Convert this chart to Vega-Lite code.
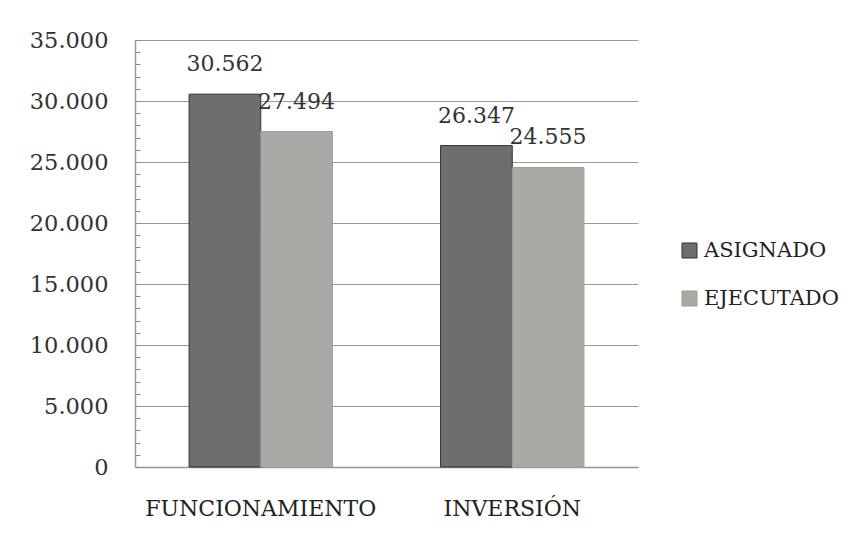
{
  "$schema": "https://vega.github.io/schema/vega-lite/v6.json",
  "width": 503,
  "height": 427,
  "autosize": "none",
  "padding": {"left": 135, "top": 40, "right": 218, "bottom": 68},
  "background": "white",
  "config": {
    "locale": {"number": {"decimal": ",", "thousands": ".", "grouping": [3], "currency": ["", ""]}},
    "font": "DejaVu Serif",
    "view": {"stroke": null}
  },
  "data": {
    "values": [
      {"categoria": "FUNCIONAMIENTO", "tipo": "ASIGNADO", "valor": 30562},
      {"categoria": "FUNCIONAMIENTO", "tipo": "EJECUTADO", "valor": 27494},
      {"categoria": "INVERSIÓN", "tipo": "ASIGNADO", "valor": 26347},
      {"categoria": "INVERSIÓN", "tipo": "EJECUTADO", "valor": 24555}
    ]
  },
  "encoding": {
    "x": {
      "field": "categoria", "type": "nominal", "sort": null,
      "scale": {"paddingInner": 0.43, "paddingOuter": 0.215},
      "axis": {"title": null, "labelAngle": 0, "labelLimit": 0, "labelFont": "DejaVu Serif", "labelFontSize": 22, "labelColor": "#222", "labelPadding": 31, "ticks": false, "domainColor": "#999", "domainWidth": 1.5}
    },
    "xOffset": {"field": "tipo", "type": "nominal", "sort": ["ASIGNADO", "EJECUTADO"]},
    "y": {
      "field": "valor", "type": "quantitative",
      "scale": {"domain": [0, 35000], "nice": false},
      "axis": {
        "title": null,
        "values": [0, 1000, 2000, 3000, 4000, 5000, 6000, 7000, 8000, 9000, 10000, 11000, 12000, 13000, 14000, 15000, 16000, 17000, 18000, 19000, 20000, 21000, 22000, 23000, 24000, 25000, 26000, 27000, 28000, 29000, 30000, 31000, 32000, 33000, 34000, 35000],
        "format": ",.0f",
        "labelExpr": "datum.value % 5000 === 0 ? datum.label : ''",
        "labelFont": "DejaVu Serif", "labelFontSize": 22.5, "labelColor": "#333", "labelPadding": 32,
        "ticks": true, "tickSize": -5, "tickColor": "#888",
        "domainColor": "#999", "domainWidth": 1.5,
        "gridColor": "#9a9a9a", "gridWidth": 1.2,
        "gridOpacity": {"condition": {"test": "datum.value % 5000 === 0", "value": 1}, "value": 0}
      }
    }
  },
  "layer": [
    {
      "mark": {"type": "bar"},
      "encoding": {
        "color": {
          "field": "tipo", "type": "nominal",
          "scale": {"domain": ["ASIGNADO", "EJECUTADO"], "range": ["#6c6f6b", "#a8aaa6"]},
          "legend": {"title": null, "orient": "none", "legendX": 544, "legendY": 200, "labelFont": "DejaVu Serif", "labelFontSize": 21, "labelColor": "#222", "symbolType": "square", "symbolSize": 225, "symbolStrokeColor": "#333", "symbolStrokeWidth": 1, "rowPadding": 26, "labelOffset": 4, "labelLimit": 0}
        },
        "stroke": {
          "field": "tipo", "type": "nominal",
          "scale": {"domain": ["ASIGNADO", "EJECUTADO"], "range": ["#333333", "#9a9c98"]},
          "legend": null
        }
      }
    },
    {
      "mark": {"type": "text", "baseline": "alphabetic", "dy": -23, "fontSize": 22, "font": "DejaVu Serif", "color": "#333"},
      "encoding": {
        "text": {"field": "valor", "type": "quantitative", "format": ",.0f"}
      }
    }
  ]
}
